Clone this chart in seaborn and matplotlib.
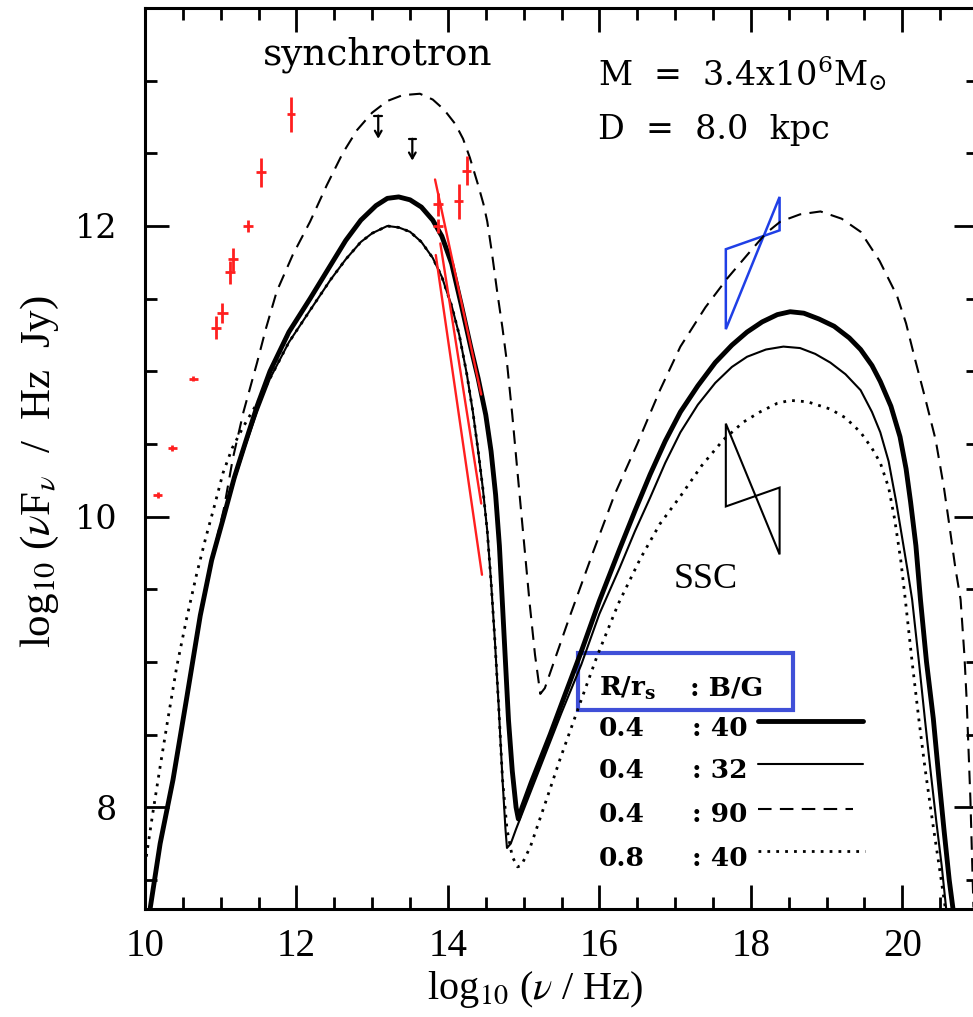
import matplotlib
matplotlib.use("Agg")
import matplotlib.pyplot as plt
import seaborn as sns
from matplotlib.patches import Rectangle, Polygon
from matplotlib.ticker import MultipleLocator

# ---------------- data ----------------
# R/rs = 0.4, B = 40 G (thick solid)
b40_x = [10.07, 10.2, 10.37, 10.55, 10.73, 10.88, 11.04, 11.18, 11.32, 11.48, 11.65, 11.9, 12.18,
         12.45, 12.65, 12.85, 13.05, 13.2, 13.35, 13.5, 13.65, 13.8, 13.92, 14.05, 14.18, 14.3,
         14.4, 14.5, 14.57, 14.63, 14.68, 14.72, 14.76, 14.8, 14.85, 14.9, 14.93, 14.98, 15.1,
         15.35, 15.55, 15.76, 16.0, 16.27, 16.47, 16.67, 16.87, 17.07, 17.3, 17.53, 17.75, 17.95,
         18.15, 18.35, 18.52, 18.7, 18.9, 19.1, 19.3, 19.45, 19.6, 19.71, 19.85, 19.97, 20.05,
         20.11, 20.18, 20.24, 20.32, 20.41, 20.48, 20.55, 20.62, 20.67]
b40_y = [7.31, 7.75, 8.19, 8.75, 9.32, 9.7, 10.0, 10.27, 10.5, 10.76, 11.0, 11.27, 11.5,
         11.73, 11.9, 12.04, 12.14, 12.19, 12.2, 12.18, 12.13, 12.04, 11.93, 11.74, 11.45, 11.17,
         10.95, 10.7, 10.45, 10.15, 9.8, 9.4, 9.0, 8.6, 8.25, 8.0, 7.92, 8.0, 8.17,
         8.5, 8.78, 9.07, 9.42, 9.78, 10.04, 10.29, 10.52, 10.72, 10.9, 11.06, 11.18, 11.27,
         11.34, 11.39, 11.41, 11.4, 11.36, 11.31, 11.23, 11.15, 11.04, 10.93, 10.76, 10.55, 10.33,
         10.1, 9.8, 9.43, 9.0, 8.61, 8.22, 7.85, 7.5, 7.3]
# R/rs = 0.4, B = 32 G (thin solid)
b32_x = [10.07, 10.2, 10.37, 10.55, 10.73, 10.88, 11.04, 11.18, 11.32, 11.48, 11.65, 11.9, 12.18,
         12.45, 12.65, 12.85, 13.0, 13.2, 13.35, 13.5, 13.65, 13.8, 13.92, 14.05, 14.15, 14.25,
         14.33, 14.4, 14.46, 14.52, 14.57, 14.62, 14.67, 14.72, 14.76, 14.78, 14.83, 14.9, 15.05,
         15.2, 15.5, 15.76, 16.0, 16.27, 16.47, 16.67, 16.87, 17.07, 17.3, 17.53, 17.75, 17.95,
         18.2, 18.43, 18.65, 18.85, 19.05, 19.25, 19.45, 19.6, 19.71, 19.82, 19.92, 20.0, 20.07,
         20.13, 20.22, 20.3, 20.38, 20.45, 20.52, 20.58]
b32_y = [7.31, 7.75, 8.19, 8.75, 9.32, 9.7, 10.0, 10.25, 10.48, 10.72, 10.95, 11.2, 11.42,
         11.63, 11.77, 11.89, 11.95, 12.0, 11.99, 11.96, 11.89, 11.78, 11.65, 11.45, 11.25, 10.98,
         10.72, 10.45, 10.2, 9.9, 9.55, 9.15, 8.7, 8.2, 7.85, 7.72, 7.75, 7.85, 8.05,
         8.25, 8.65, 8.98, 9.33, 9.65, 9.9, 10.13, 10.37, 10.58, 10.77, 10.92, 11.03, 11.1,
         11.15, 11.17, 11.16, 11.12, 11.06, 10.98, 10.87, 10.72, 10.58, 10.38, 10.1, 9.85, 9.63,
         9.43, 9.0, 8.6, 8.22, 7.9, 7.6, 7.3]
# R/rs = 0.4, B = 90 G (dashed)
b90_x = [10.07, 10.2, 10.37, 10.55, 10.73, 10.88, 11.04, 11.16, 11.3, 11.48, 11.6, 11.74, 11.95,
         12.18, 12.4, 12.61, 12.8, 13.0, 13.2, 13.4, 13.63, 13.8, 13.95, 14.1, 14.2, 14.29, 14.4,
         14.47, 14.52, 14.58, 14.65, 14.72, 14.78, 14.85, 14.92, 15.0, 15.08, 15.15, 15.22, 15.28,
         15.4, 15.6, 15.92, 16.2, 16.5, 16.8, 17.07, 17.4, 17.69, 18.0, 18.2, 18.39, 18.65, 18.92,
         19.2, 19.45, 19.7, 19.93, 20.05, 20.17, 20.3, 20.44, 20.55, 20.63, 20.7, 20.77, 20.82,
         20.85, 20.9, 20.94]
b90_y = [7.31, 7.75, 8.19, 8.75, 9.32, 9.7, 10.05, 10.4, 10.72, 11.06, 11.3, 11.55, 11.8,
         12.03, 12.28, 12.5, 12.66, 12.78, 12.86, 12.9, 12.91, 12.87, 12.8, 12.7, 12.6, 12.47, 12.28,
         12.15, 12.03, 11.82, 11.55, 11.3, 11.06, 10.7, 10.3, 9.85, 9.4, 9.05, 8.78, 8.82,
         9.0, 9.3, 9.76, 10.15, 10.5, 10.87, 11.17, 11.44, 11.64, 11.83, 11.95, 12.03, 12.08, 12.1,
         12.05, 11.96, 11.76, 11.52, 11.33, 11.08, 10.82, 10.53, 10.2, 9.91, 9.65, 9.43, 9.05,
         8.74, 8.05, 7.31]
# R/rs = 0.8, B = 40 G (dotted)
r08_x = [10.0, 10.1, 10.2, 10.3, 10.42, 10.55, 10.68, 10.8, 10.92, 11.03, 11.15, 11.3, 11.48,
         11.65, 11.9, 12.18, 12.45, 12.65, 12.85, 13.0, 13.2, 13.35, 13.5, 13.65, 13.8, 13.92,
         14.05, 14.15, 14.25, 14.33, 14.4, 14.46, 14.52, 14.57, 14.62, 14.67, 14.72, 14.78, 14.85,
         14.92, 14.97, 15.09, 15.3, 15.48, 15.72, 15.97, 16.25, 16.54, 16.8, 17.07, 17.35, 17.64,
         17.9, 18.12, 18.35, 18.52, 18.75, 19.05, 19.25, 19.45, 19.6, 19.71, 19.82, 19.9, 19.98,
         20.04, 20.13, 20.22, 20.3, 20.4, 20.5, 20.57]
r08_y = [7.6, 7.95, 8.28, 8.6, 8.97, 9.3, 9.6, 9.85, 10.08, 10.3, 10.47, 10.62, 10.78,
         10.95, 11.2, 11.42, 11.63, 11.77, 11.89, 11.95, 12.0, 11.99, 11.96, 11.89, 11.78, 11.65,
         11.45, 11.25, 10.98, 10.72, 10.45, 10.2, 9.9, 9.55, 9.15, 8.7, 8.2, 7.85, 7.66,
         7.59, 7.6, 7.73, 8.05, 8.33, 8.68, 9.04, 9.4, 9.71, 9.95, 10.14, 10.35, 10.53,
         10.65, 10.72, 10.78, 10.8, 10.79, 10.74, 10.68, 10.58, 10.47, 10.37, 10.2, 9.98, 9.7,
         9.43, 9.0, 8.6, 8.27, 7.9, 7.55, 7.3]

# radio / sub-mm / IR measurements (red)
obs_x = [10.17, 10.36, 10.64, 10.94, 11.02, 11.12, 11.16, 11.36, 11.53, 11.93, 13.87, 13.87, 14.14, 14.25]
obs_y = [10.15, 10.47, 10.95, 11.30, 11.40, 11.68, 11.77, 12.00, 12.37, 12.77, 12.15, 12.00, 12.17, 12.38]
obs_yerr = [0.02, 0.02, 0.02, 0.08, 0.07, 0.08, 0.08, 0.04, 0.10, 0.12, 0.08, 0.05, 0.12, 0.10]
obs_xerr = [0.06, 0.06, 0.06, 0.07, 0.07, 0.07, 0.07, 0.07, 0.07, 0.05, 0.07, 0.07, 0.06, 0.06]
# NIR spectral slopes (red lines): start / end
slope_x0 = [13.83, 13.90, 13.84]
slope_y0 = [12.32, 11.88, 11.80]
slope_x1 = [14.44, 14.44, 14.45]
slope_y1 = [10.84, 10.09, 9.60]
# mid-IR upper limits (black)
ul_x = [13.08, 13.53]
ul_top = [12.76, 12.60]
ul_tip = [12.60, 12.45]
# X-ray bow ties: x edges and the two power-law lines
bow_x = [17.67, 18.38]
xray_steep = [11.29, 12.20]
xray_flat = [11.84, 11.97]
ssc_steep = [10.64, 9.74]
ssc_flat = [10.07, 10.20]

legend_r = ["0.4", "0.4", "0.4", "0.8"]
legend_b = ["40", "32", "90", "40"]

# ---------------- figure ----------------
sns.set_theme(style="ticks")
plt.rcParams["font.family"] = ["DejaVu Serif", "DejaVu Sans"]
plt.rcParams["mathtext.fontset"] = "stix"
for k in ["text.color", "axes.labelcolor", "xtick.color", "ytick.color", "axes.edgecolor"]:
    plt.rcParams[k] = "black"

W, H = 973, 1017
fig = plt.figure(figsize=(W / 100, H / 100), dpi=100)
fig.patch.set_facecolor("white")
L, R, T, B = 145, 978, 8, 909
ax = fig.add_axes([L / W, 1 - B / H, (R - L) / W, (B - T) / H])
ax.set_facecolor("white")

lw_thick, lw_thin = 3.5, 1.5
dash = (0, (6.5, 4))
dot = (0, (1, 2.2))
sns.lineplot(x=b40_x, y=b40_y, ax=ax, color="black", lw=lw_thick, sort=False, estimator=None)
sns.lineplot(x=b32_x, y=b32_y, ax=ax, color="black", lw=lw_thin, sort=False, estimator=None)
sns.lineplot(x=b90_x, y=b90_y, ax=ax, color="black", lw=lw_thin, sort=False, estimator=None,
             linestyle=dash)
sns.lineplot(x=r08_x, y=r08_y, ax=ax, color="black", lw=2.0, sort=False, estimator=None,
             linestyle=dot)

red = "#ff1f1f"
ax.errorbar(obs_x, obs_y, yerr=obs_yerr, xerr=obs_xerr, fmt="none", ecolor=red, elinewidth=2.0, capsize=0)
for x0, y0, x1, y1 in zip(slope_x0, slope_y0, slope_x1, slope_y1):
    ax.plot([x0, x1], [y0, y1], color=red, lw=1.7)

for x, yt, yp in zip(ul_x, ul_top, ul_tip):
    ax.annotate("", xy=(x, yp), xytext=(x, yt),
                arrowprops=dict(arrowstyle="->,head_length=0.35,head_width=0.2", color="black", lw=1.6,
                                shrinkA=0, shrinkB=0))
    ax.plot([x - 0.05, x + 0.05], [yt, yt], color="black", lw=1.6)

blue = "#1f3fe6"
xr = Polygon([(bow_x[0], xray_flat[0]), (bow_x[0], xray_steep[0]), (bow_x[1], xray_steep[1]),
              (bow_x[1], xray_flat[1])], closed=True, fill=False, edgecolor=blue, lw=1.8)
ax.add_patch(xr)
ss = Polygon([(bow_x[0], ssc_steep[0]), (bow_x[0], ssc_flat[0]), (bow_x[1], ssc_flat[1]),
              (bow_x[1], ssc_steep[1])], closed=True, fill=False, edgecolor="black", lw=1.5)
ax.add_patch(ss)

ax.set_xlim(10, 21)
ax.set_ylim(7.3, 13.5)
ax.xaxis.set_major_locator(MultipleLocator(2))
ax.xaxis.set_minor_locator(MultipleLocator(0.5))
ax.yaxis.set_major_locator(MultipleLocator(2))
ax.yaxis.set_minor_locator(MultipleLocator(0.5))
ax.tick_params(which="both", direction="in", top=True, right=True, width=2.0, color="black")
ax.tick_params(which="major", length=17)
ax.tick_params(which="minor", length=8.5)
ax.tick_params(axis="x", which="major", pad=14, labelsize=28)
ax.tick_params(axis="y", which="major", pad=20, labelsize=24)
for lab in ax.get_xticklabels():
    lab.set_family("Liberation Serif")
for lab in ax.get_yticklabels():
    lab.set_family("DejaVu Serif")
for s in ax.spines.values():
    s.set_linewidth(2.2)
    s.set_color("black")
    s.set_visible(True)

ax.set_xlabel(r"log$_{10}$ ($\nu$ / Hz)", family="Liberation Serif", fontsize=29)
ax.xaxis.set_label_coords((535 - L) / (R - L), (B - 990) / (B - T))
ax.xaxis.label.set_va("center")
ax.set_ylabel(r"log$_{10}$ ($\nu$F$_\nu$  /  Hz  Jy)", family="Liberation Serif", fontsize=31)
ax.yaxis.set_label_coords((40 - L) / (R - L), (B - 472) / (B - T))
ax.yaxis.label.set_va("center")

def axp(px, py):
    return ((px - L) / (R - L), (B - py) / (B - T))

ax.text(*axp(378, 55), "synchrotron", transform=ax.transAxes, ha="center", va="center",
        fontsize=27, family="DejaVu Serif")
ax.text(*axp(598, 73), r"M  =  3.4x10$^{6}$M$_{\odot}$", transform=ax.transAxes, ha="left", va="center",
        fontsize=24, family="DejaVu Serif", math_fontfamily="dejavuserif")
ax.text(*axp(598, 130), "D  =  8.0  kpc", transform=ax.transAxes, ha="left", va="center",
        fontsize=24, family="DejaVu Serif")
ax.text(*axp(706, 580), "SSC", transform=ax.transAxes, ha="center", va="center",
        fontsize=26, family="Liberation Serif")

# legend block
ax.text(*axp(599, 688), r"R/r$_\mathbf{s}$", transform=ax.transAxes, ha="left", va="center",
        fontsize=19, family="DejaVu Serif", weight="bold", math_fontfamily="dejavuserif")
ax.text(*axp(690, 688), ": B/G", transform=ax.transAxes, ha="left", va="center",
        fontsize=19, family="DejaVu Serif", weight="bold")
ax.add_patch(Rectangle(axp(578, 710), (793 - 578) / (R - L), (710 - 653) / (B - T),
                       transform=ax.transAxes, fill=False, edgecolor="#4050d8", lw=3.0))
row_y = [728, 770, 815, 858]
line_y = [721, 764, 809, 851]
styles = [dict(lw=lw_thick, ls="-"), dict(lw=lw_thin, ls="-"), dict(lw=lw_thin, ls=dash),
          dict(lw=2.0, ls=dot)]
line_end = [863, 863, 853, 865]
for r_, b_, ry, ly, st, le in zip(legend_r, legend_b, row_y, line_y, styles, line_end):
    ax.text(*axp(599, ry), r_, transform=ax.transAxes, ha="left", va="center",
            fontsize=19, family="DejaVu Serif", weight="bold")
    ax.text(*axp(692, ry), ": " + b_, transform=ax.transAxes, ha="left", va="center",
            fontsize=19, family="DejaVu Serif", weight="bold")
    x0, y0 = axp(758, ly)
    x1, _ = axp(le, ly)
    ax.plot([x0, x1], [y0, y0], transform=ax.transAxes, color="black", lw=st["lw"], ls=st["ls"])

fig.savefig("out.png", dpi=100, facecolor="white")
